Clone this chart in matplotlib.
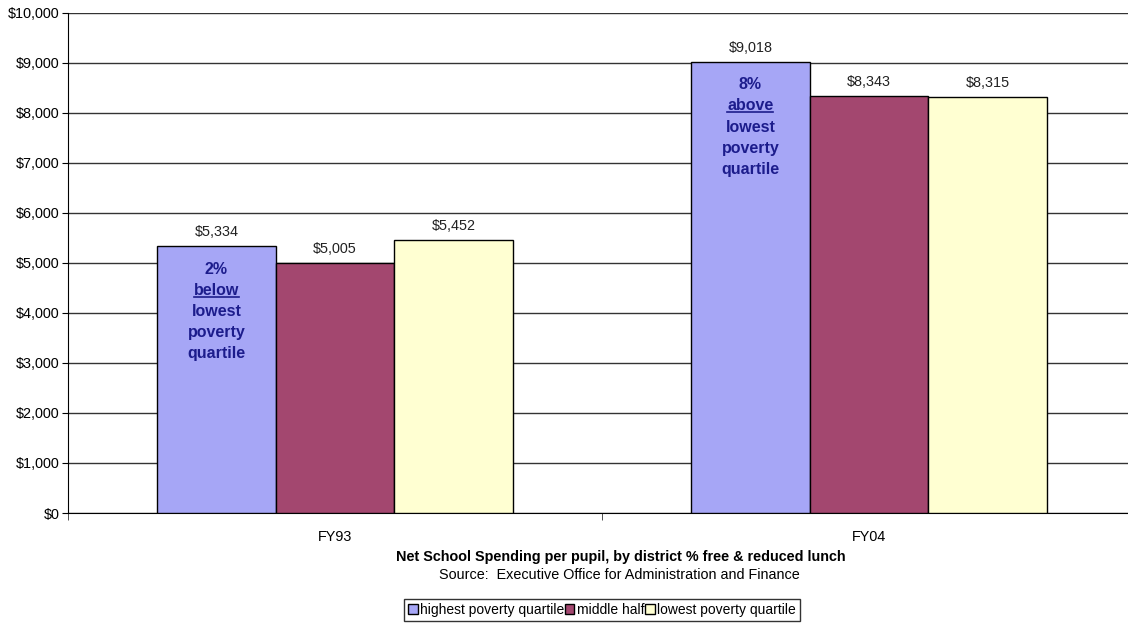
import matplotlib.pyplot as plt
import matplotlib.lines as mlines
import matplotlib.transforms as mtrans
import numpy as np

plt.rcParams['font.family'] = ['Liberation Sans', 'DejaVu Sans']

years = ["FY93", "FY04"]
series = ["highest poverty quartile", "middle half", "lowest poverty quartile"]
highest = [5334, 9018]
middle = [5005, 8343]
lowest = [5452, 8315]
notes = [("2%", "below"), ("8%", "above")]

colors = ["#A6A6F6", "#A3476F", "#FFFFD2"]
note_color = "#1C1C8C"

fig = plt.figure(figsize=(11.28, 6.24), dpi=100)
ax = fig.add_axes([68 / 1128, 111 / 624, 1068 / 1128, 500 / 624])

x = np.arange(len(years))
w = 0.2222
for i, (vals, c, name) in enumerate(zip([highest, middle, lowest], colors, series)):
    pos = x + (i - 1) * w
    ax.bar(pos, vals, width=w, color=c, edgecolor="black", linewidth=1, label=name, zorder=3)
    for px, v in zip(pos, vals):
        ax.annotate(f"${v:,}", (px, v), xytext=(0, 5), textcoords="offset points",
                    ha="center", va="bottom", fontsize=10.4, color="#222222")

# notes inside the highest-poverty bars, one line at a time
underlined = []
for px, v, (pct, word) in zip(x - w, highest, notes):
    lines = [pct, word, "lowest", "poverty", "quartile"]
    for k, s in enumerate(lines):
        t = ax.annotate(s, (px, v), xytext=(0, -11 - k * 15.2), textcoords="offset points",
                        ha="center", va="top", fontsize=11.5, fontweight="bold",
                        color=note_color, zorder=4)
        if k == 1:
            underlined.append(t)

ax.set_ylim(0, 10000)
ax.set_xlim(-0.5, 1.5)
ax.set_yticks(np.arange(0, 10001, 1000))
ax.set_yticklabels([f"${t:,}" for t in range(0, 10001, 1000)], fontsize=10.4)
ax.yaxis.grid(True, color="#333333", linewidth=1)
ax.set_axisbelow(True)
ax.set_xticks(x)
ax.set_xticklabels(years, fontsize=10.4)
ax.tick_params(axis="x", length=0, pad=12)
ax.set_xticks([-0.5, 0.5, 1.5], minor=True)
ax.tick_params(axis="x", which="minor", length=5, color="#333333")
ax.tick_params(axis="y", length=4, pad=2)
for s in ["top", "right"]:
    ax.spines[s].set_visible(False)

fig.text(621 / 1128, 1 - 557 / 624, "Net School Spending per pupil, by district % free & reduced lunch",
         ha="center", va="center", fontsize=10.4, fontweight="bold")
fig.text(619 / 1128, 1 - 575 / 624, "Source:  Executive Office for Administration and Finance",
         ha="center", va="center", fontsize=10.4)

leg = fig.legend(loc="center", bbox_to_anchor=(602 / 1128, 1 - 610 / 624), ncol=3,
                 fontsize=10, frameon=True, fancybox=False, edgecolor="black",
                 handlelength=0.7, handleheight=0.7, handletextpad=0.2,
                 columnspacing=0.0, borderpad=0.3, borderaxespad=0)
leg.get_frame().set_linewidth(1)

# underline the "below"/"above" words
fig.canvas.draw()
r = fig.canvas.get_renderer()
for t in underlined:
    bb = t.get_window_extent(r)
    fig.add_artist(mlines.Line2D([bb.x0, bb.x1], [bb.y0 + 1, bb.y0 + 1], color=note_color,
                                 linewidth=1.2, transform=mtrans.IdentityTransform(), zorder=5))

fig.savefig("out.png", dpi=100)
